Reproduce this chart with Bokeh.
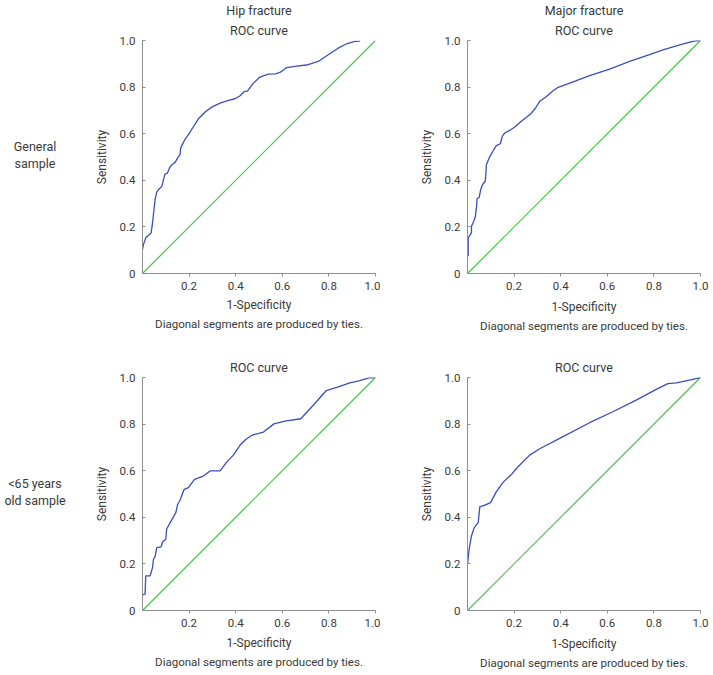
from bokeh.plotting import figure
from bokeh.models import Range1d, FixedTicker, Title, Div
from bokeh.layouts import row, column
from bokeh.embed import file_html
from bokeh.resources import INLINE

FONT = "Roboto"
TEXT = "#3a3a3a"
AXIS = "#8f8f8f"
BLUE = "#3a4fbe"
GREEN = "#45c445"

x_ticks = [0.2, 0.4, 0.6, 0.8, 1.0]
y_ticks = [0, 0.2, 0.4, 0.6, 0.8, 1.0]
y_tick_labels = {0: "0", 0.2: "0.2", 0.4: "0.4", 0.6: "0.6", 0.8: "0.8", 1.0: "1.0"}
x_tick_labels = {0.2: "0.2", 0.4: "0.4", 0.6: "0.6", 0.8: "0.8", 1.0: "1.0"}

diag_x = [0, 1]
diag_y = [0, 1]

row_labels = [["General", "sample"], ["&lt;65 years", "old sample"]]
col_titles = ["Hip fracture", "Major fracture"]
sub_title = "ROC curve"
x_label = "1-Specificity"
y_label = "Sensitivity"
note = "Diagonal segments are produced by ties."

# Hip fracture, general sample
hip_gen_fpr = [0.0, 0.004, 0.014, 0.026, 0.037, 0.043, 0.047, 0.054, 0.061, 0.071, 0.083, 0.090,
               0.097, 0.107, 0.116, 0.126, 0.140, 0.151, 0.161, 0.164, 0.171, 0.183, 0.197, 0.219,
               0.240, 0.269, 0.297, 0.333, 0.369, 0.397, 0.419, 0.437, 0.451, 0.476, 0.504, 0.540,
               0.571, 0.590, 0.619, 0.654, 0.711, 0.754, 0.797, 0.840, 0.876, 0.911, 0.933]
hip_gen_tpr = [0.103, 0.124, 0.153, 0.164, 0.174, 0.217, 0.253, 0.317, 0.349, 0.363, 0.374, 0.403,
               0.427, 0.431, 0.453, 0.467, 0.477, 0.496, 0.510, 0.539, 0.553, 0.577, 0.596, 0.631,
               0.664, 0.693, 0.714, 0.731, 0.743, 0.750, 0.763, 0.781, 0.784, 0.817, 0.843, 0.856,
               0.857, 0.863, 0.884, 0.889, 0.896, 0.910, 0.939, 0.967, 0.986, 0.996, 0.997]

# Major fracture, general sample
maj_gen_fpr = [0.003, 0.003, 0.010, 0.017, 0.017, 0.027, 0.034, 0.039, 0.041, 0.050, 0.056, 0.064,
               0.076, 0.079, 0.081, 0.093, 0.110, 0.124, 0.141, 0.150, 0.160, 0.181, 0.203, 0.231,
               0.267, 0.289, 0.310, 0.339, 0.367, 0.389, 0.439, 0.524, 0.610, 0.696, 0.781, 0.839,
               0.896, 0.946, 0.981, 1.0]
maj_gen_tpr = [0.074, 0.153, 0.164, 0.174, 0.203, 0.224, 0.246, 0.289, 0.321, 0.326, 0.357, 0.381,
               0.396, 0.431, 0.467, 0.496, 0.527, 0.549, 0.557, 0.591, 0.603, 0.614, 0.629, 0.653,
               0.681, 0.706, 0.739, 0.760, 0.784, 0.799, 0.817, 0.849, 0.877, 0.910, 0.939, 0.960,
               0.977, 0.991, 0.999, 1.0]

# Hip fracture, <65 years
hip_y65_fpr = [0.0, 0.011, 0.014, 0.033, 0.043, 0.047, 0.054, 0.061, 0.080, 0.086, 0.100, 0.104,
               0.119, 0.143, 0.151, 0.161, 0.179, 0.197, 0.223, 0.261, 0.290, 0.333, 0.361, 0.390,
               0.419, 0.443, 0.471, 0.519, 0.564, 0.611, 0.679, 0.736, 0.789, 0.840, 0.890, 0.933,
               0.976, 1.0]
hip_y65_tpr = [0.067, 0.070, 0.149, 0.149, 0.184, 0.220, 0.231, 0.270, 0.273, 0.294, 0.306, 0.351,
               0.377, 0.420, 0.456, 0.473, 0.520, 0.527, 0.563, 0.577, 0.599, 0.599, 0.637, 0.667,
               0.710, 0.734, 0.753, 0.766, 0.801, 0.813, 0.823, 0.884, 0.944, 0.960, 0.977, 0.987,
               0.999, 1.0]

# Major fracture, <65 years
maj_y65_fpr = [0.0, 0.007, 0.017, 0.029, 0.046, 0.053, 0.067, 0.099, 0.124, 0.153, 0.189, 0.217,
               0.267, 0.310, 0.410, 0.524, 0.624, 0.724, 0.810, 0.860, 0.896, 0.953, 1.0]
maj_y65_tpr = [0.199, 0.263, 0.320, 0.356, 0.377, 0.446, 0.449, 0.463, 0.510, 0.551, 0.584, 0.617,
               0.667, 0.694, 0.746, 0.806, 0.853, 0.903, 0.949, 0.974, 0.977, 0.989, 1.0]


def panel(fpr, tpr, titles, left, right, top, bottom, xlab_standoff, note_standoff):
    p = figure(frame_width=233, frame_height=233, output_backend="svg", toolbar_location=None,
               x_range=Range1d(0, 1), y_range=Range1d(0, 1),
               min_border_left=left, min_border_right=right,
               min_border_top=top, min_border_bottom=bottom,
               background_fill_color="white", border_fill_color="white")
    p.outline_line_color = None
    p.grid.visible = False
    p.line(diag_x, diag_y, line_color=GREEN, line_width=1.2)
    p.line(fpr, tpr, line_color=BLUE, line_width=1.3)

    xa = p.xaxis[0]
    xa.ticker = FixedTicker(ticks=x_ticks)
    xa.major_label_overrides = x_tick_labels
    xa.axis_label = x_label
    xa.axis_label_standoff = xlab_standoff
    xa.major_tick_out = 3
    xa.major_tick_in = 0
    xa.major_label_standoff = 5
    ya = p.yaxis[0]
    ya.ticker = FixedTicker(ticks=y_ticks)
    ya.major_label_overrides = y_tick_labels
    ya.axis_label = y_label
    ya.axis_label_standoff = 8
    ya.major_tick_out = 0
    ya.major_tick_in = 3
    ya.major_label_standoff = 7
    for ax in (xa, ya):
        ax.minor_tick_line_color = None
        ax.axis_line_color = AXIS
        ax.major_tick_line_color = AXIS
        ax.major_label_text_font = FONT
        ax.major_label_text_font_size = "11.5px"
        ax.major_label_text_color = TEXT
        ax.axis_label_text_font = FONT
        ax.axis_label_text_font_size = "12px"
        ax.axis_label_text_font_style = "normal"
        ax.axis_label_text_color = TEXT

    p.title.visible = False
    standoffs = [6, 0]
    for t, so in zip(titles, standoffs):
        p.add_layout(Title(text=t, align="center", text_font=FONT, text_font_size="12.5px",
                           text_font_style="normal", text_color=TEXT, standoff=so), "above")
    p.add_layout(Title(text=note, align="center", text_font=FONT, text_font_size="11.5px",
                       text_font_style="normal", text_color=TEXT, standoff=note_standoff), "below")
    return p


def label_div(lines, height, pad):
    spans = "".join(f"<span style='white-space:nowrap'>{s}</span>" for s in lines)
    return Div(text=(f"<div style=\"width:70px;display:flex;flex-direction:column;align-items:center;"
                     f"padding-top:{pad}px;font-family:'{FONT}';font-size:12.5px;line-height:16.5px;"
                     f"color:{TEXT}\">{spans}</div>"), width=88, height=height, margin=0)


tl = panel(hip_gen_fpr, hip_gen_tpr, [sub_title, col_titles[0]], 54, 5, 40, 67, 5, 0)
tr = panel(maj_gen_fpr, maj_gen_tpr, [sub_title, col_titles[1]], 87, 13, 40, 67, 7, 0)
bl = panel(hip_y65_fpr, hip_y65_tpr, [sub_title], 54, 5, 37, 57, 6, 0)
br = panel(maj_y65_fpr, maj_y65_tpr, [sub_title], 87, 13, 37, 57, 7, 0)

layout = column(row(label_div(row_labels[0], 300, 139), tl, tr, spacing=0),
                row(label_div(row_labels[1], 300, 136), bl, br, spacing=0), spacing=0)

open("out.html", "w").write(file_html(layout, INLINE))
